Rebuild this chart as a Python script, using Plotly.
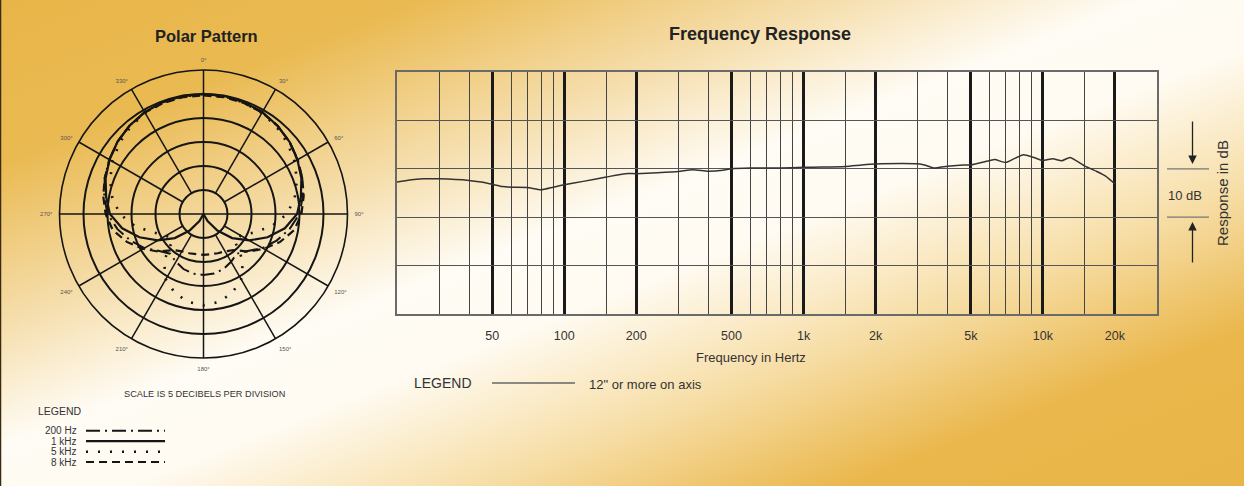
import math
import base64
import plotly.graph_objects as go

W, H = 1244, 486

# ---------------- data ----------------
# Frequency response (Hz, dB relative)
freq_hz = [20, 22.6, 25.8, 30, 40, 45, 50, 55, 60, 70, 80, 90, 100, 120, 150, 180, 200,
           245, 300, 345, 400, 460, 500, 600, 800, 1000, 1200, 1500, 1750, 2000, 2600,
           3000, 3200, 3500, 4000, 4500, 5000, 6000, 6300, 7000, 7600, 8300, 9100,
           10000, 11000, 12000, 13000, 15000, 16800, 18300, 20000]
response_db = [-2.75, -2.3, -2.07, -2.07, -2.4, -2.75, -3.2, -3.65, -3.8, -3.85, -4.35, -3.8,
               -3.3, -2.6, -1.7, -1.0, -1.0, -0.8, -0.55, -0.2, -0.5, -0.3, 0.0, 0.15, 0.15,
               0.3, 0.35, 0.5, 0.8, 1.0, 1.1, 1.03, 0.8, 0.15, 0.55, 0.75, 0.8, 1.7, 1.9,
               1.3, 2.1, 2.9, 2.4, 1.7, 2.1, 1.65, 2.35, 0.55, -0.55, -1.5, -3.1]

major_freqs = [50, 100, 200, 500, 1000, 2000, 5000, 10000, 20000]
major_labels = ["50", "100", "200", "500", "1k", "2k", "5k", "10k", "20k"]
minor_freqs = [30, 40, 60, 70, 80, 90, 150, 300, 400, 600, 700, 800, 900,
               1500, 3000, 4000, 6000, 7000, 8000, 9000, 15000]

# Polar pattern (degrees, dB; 0 dB ring = on-axis)
polar_theta = list(range(0, 361, 10))
polar_200hz = [0, 0, -0.2, -0.5, -1.0, -1.6, -2.3, -3.1, -4.0, -5.0, -6.8, -8.8, -10.8, -13.0,
               -14.2, -13.5, -12.8, -12.4, -12.3, -12.4, -12.8, -13.5, -14.2, -13.0, -10.8,
               -8.8, -6.8, -5.0, -4.0, -3.1, -2.3, -1.6, -1.0, -0.5, -0.2, 0, 0]
polar_1khz = [0, -0.05, -0.2, -0.5, -1.0, -1.6, -2.4, -3.3, -4.4, -5.5, -7.8, -10.8, -14.0,
              -17.2, -20.5, -23.3, -25, -25, -25, -25, -25, -23.3, -20.5, -17.2, -14.0, -10.8,
              -7.8, -5.5, -4.4, -3.3, -2.4, -1.6, -1.0, -0.5, -0.2, -0.05, 0]
polar_5khz = [0, -0.1, -0.3, -0.7, -1.3, -2.1, -3.1, -4.3, -5.7, -7.6, -10.5, -13.8, -16.0,
              -16.6, -12.2, -9.3, -7.5, -6.4, -6.0, -6.4, -7.5, -9.3, -12.2, -16.6, -16.0,
              -13.8, -10.5, -7.6, -5.7, -4.3, -3.1, -2.1, -1.3, -0.7, -0.3, -0.1, 0]
polar_8khz = [-0.3, -0.3, -0.4, -0.6, -1.0, -1.6, -2.4, -3.1, -3.8, -4.6, -5.8, -8.0, -10.5,
              -12.8, -15.2, -16.0, -16.3, -16.5, -16.5, -16.5, -16.3, -16.0, -15.2, -12.8,
              -10.5, -8.0, -5.8, -4.6, -3.8, -3.1, -2.4, -1.6, -1.0, -0.6, -0.4, -0.3, -0.3]

polar_series = [
    ("200 Hz", polar_200hz, "14px,5px,2px,5px", 2.0),
    ("1 kHz", polar_1khz, "solid", 2.2),
    ("5 kHz", polar_5khz, "2px,10px", 2.6),
    ("8 kHz", polar_8khz, "8px,5px", 2.2),
]
spoke_angles = list(range(0, 360, 30))
spoke_labels = [f"{a}°" for a in spoke_angles]
ring_db = [-20, -15, -10, -5, 0]

# ---------------- helpers ----------------
def px(x):
    return x / W


def py(y):
    return 1 - y / H


FONT = "Liberation Sans, Arial, Helvetica, sans-serif"
GOLD = "#E8B548"

svg = f'''<svg xmlns="http://www.w3.org/2000/svg" width="{W}" height="{H}" viewBox="0 0 {W} {H}" preserveAspectRatio="none">
<defs><linearGradient id="g" x1="0" y1="0" x2="1" y2="1">
<stop offset="0" stop-color="#E8B548"/>
<stop offset="0.17" stop-color="#EABA52"/>
<stop offset="0.33" stop-color="#F5DDAA"/>
<stop offset="0.46" stop-color="#FFFCF5"/>
<stop offset="0.55" stop-color="#FFFBF2"/>
<stop offset="0.70" stop-color="#F6DCA2"/>
<stop offset="0.84" stop-color="#EAB74C"/>
<stop offset="1" stop-color="#E8B548"/>
</linearGradient></defs>
<rect x="0" y="0" width="{W}" height="{H}" fill="url(#g)"/>
</svg>'''
bg_uri = "data:image/svg+xml;base64," + base64.b64encode(svg.encode()).decode()

fig = go.Figure()

# ---------------- frequency response ----------------
fig.add_trace(go.Scatter(
    x=freq_hz, y=response_db, mode="lines",
    line=dict(color="#333333", width=1.5, shape="spline", smoothing=0.5),
    xaxis="x", yaxis="y", hoverinfo="skip", showlegend=False,
))

# ---------------- polar ----------------
for ang in spoke_angles:
    r0 = -25 if ang % 90 == 0 else ring_db[0]
    fig.add_trace(go.Scatterpolar(
        r=[r0, 5], theta=[ang, ang], mode="lines",
        line=dict(color="#151515", width=1.5), subplot="polar",
        hoverinfo="skip", showlegend=False,
    ))

for name, vals, dash, wdt in polar_series:
    fig.add_trace(go.Scatterpolar(
        r=vals, theta=polar_theta, mode="lines", name=name,
        line=dict(color="#151515", width=wdt, dash=dash), subplot="polar",
        hoverinfo="skip", showlegend=False,
    ))

shapes = []
annotations = []

# polar legend samples
legend_y = [430.7, 441.2, 451.7, 462.0]
for (name, vals, dash, wdt), yy in zip(polar_series, legend_y):
    shapes.append(dict(type="line", xref="paper", yref="paper",
                       x0=px(86), x1=px(165), y0=py(yy), y1=py(yy),
                       line=dict(color="#151515", width=wdt, dash=dash)))
    annotations.append(dict(text=name, xref="paper", yref="paper", x=px(79), y=py(yy),
                            xanchor="right", yanchor="middle", showarrow=False,
                            font=dict(family=FONT, size=10, color="#333")))

annotations += [
    dict(text="<b>Polar Pattern</b>", x=px(206), y=py(36), font=dict(family=FONT, size=16.5, color="#222")),
    dict(text="<b>Frequency Response</b>", x=px(760), y=py(34), font=dict(family=FONT, size=18, color="#222")),
    dict(text="Frequency in Hertz", x=px(751), y=py(357), font=dict(family=FONT, size=13, color="#333")),
    dict(text="LEGEND", x=px(412), y=py(383), xanchor="left", font=dict(family=FONT, size=14, color="#333")),
    dict(text="12\" or more on axis", x=px(587), y=py(384), xanchor="left", font=dict(family=FONT, size=13, color="#333")),
    dict(text="SCALE IS 5 DECIBELS PER DIVISION", x=px(204), y=py(394), font=dict(family=FONT, size=9.2, color="#333")),
    dict(text="LEGEND", x=px(36), y=py(410.5), xanchor="left", font=dict(family=FONT, size=10.5, color="#333")),
    dict(text="10 dB", x=px(1185), y=py(195), font=dict(family=FONT, size=13, color="#333")),
    dict(text="Response in dB", x=px(1222), y=py(193), textangle=-90, font=dict(family=FONT, size=15, color="#333")),
]
for a in annotations:
    a.setdefault("xref", "paper")
    a.setdefault("yref", "paper")
    a.setdefault("showarrow", False)
    a.setdefault("xanchor", "center")
    a.setdefault("yanchor", "middle")

# 10 dB arrows
annotations.append(dict(text="", xref="paper", yref="y", x=px(1192.5), y=1.0, ax=0, ay=-44,
                        showarrow=True, arrowhead=2, arrowsize=1.3, arrowwidth=1.3, arrowcolor="#222"))
annotations.append(dict(text="", xref="paper", yref="y", x=px(1192.5), y=-11.0, ax=0, ay=42,
                        showarrow=True, arrowhead=2, arrowsize=1.3, arrowwidth=1.3, arrowcolor="#222"))

for yv in (0, -10):
    shapes.append(dict(type="line", xref="paper", yref="y", x0=px(1167), x1=px(1209), y0=yv, y1=yv,
                       line=dict(color="#777", width=1.2)))
# frequency legend line
shapes.append(dict(type="line", xref="paper", yref="paper", x0=px(492), x1=px(575),
                   y0=py(383), y1=py(383), line=dict(color="#666", width=1.5)))
# dark left edge
shapes.append(dict(type="line", xref="paper", yref="paper", x0=0.0004, x1=0.0004, y0=0, y1=1,
                   line=dict(color="#3b2a0e", width=1.5)))

fig.update_layout(
    width=W, height=H,
    margin=dict(l=0, r=0, t=0, b=0),
    paper_bgcolor=GOLD, plot_bgcolor="rgba(0,0,0,0)",
    showlegend=False,
    font=dict(family=FONT, color="#333"),
    images=[dict(source=bg_uri, xref="paper", yref="paper", x=0, y=1, sizex=1, sizey=1,
                 xanchor="left", yanchor="top", sizing="stretch", layer="below")],
    xaxis=dict(
        type="log", range=[math.log10(20), math.log10(30000)],
        domain=[px(397), px(1157)], anchor="y",
        tickmode="array", tickvals=major_freqs, ticktext=major_labels,
        showgrid=True, gridcolor="#1a1a1a", gridwidth=2.8,
        minor=dict(tickmode="array", tickvals=minor_freqs, showgrid=True,
                   gridcolor="#454545", gridwidth=1.3, ticks=""),
        showline=True, mirror=True, linecolor="#6a6a6a", linewidth=1.5,
        ticks="outside", ticklen=9, tickcolor="rgba(0,0,0,0)",
        tickfont=dict(family=FONT, size=12.5, color="#333"),
        zeroline=False, fixedrange=True,
    ),
    yaxis=dict(
        range=[-30, 20], domain=[py(314), py(72)], anchor="x",
        tickmode="linear", tick0=-30, dtick=10,
        showgrid=True, gridcolor="#555555", gridwidth=1.3,
        showticklabels=False, ticks="",
        showline=True, mirror=True, linecolor="#6a6a6a", linewidth=1.5,
        zeroline=False, fixedrange=True,
    ),
    polar=dict(
        domain=dict(x=[px(59.5), px(347.5)], y=[py(358), py(70)]),
        bgcolor="rgba(0,0,0,0)",
        radialaxis=dict(range=[-25, 5], tickvals=ring_db, showticklabels=False, ticks="",
                        showline=False, showgrid=True, gridcolor="#151515", gridwidth=1.5),
        angularaxis=dict(rotation=90, direction="clockwise", tickmode="array",
                         tickvals=spoke_angles, ticktext=spoke_labels,
                         showgrid=False, showline=True,
                         linecolor="#151515", linewidth=1.6,
                         ticks="outside", ticklen=5, tickcolor="rgba(0,0,0,0)",
                         tickfont=dict(family=FONT, size=6, color="#555")),
    ),
    shapes=shapes,
    annotations=annotations,
)

fig.write_html("out.html")
